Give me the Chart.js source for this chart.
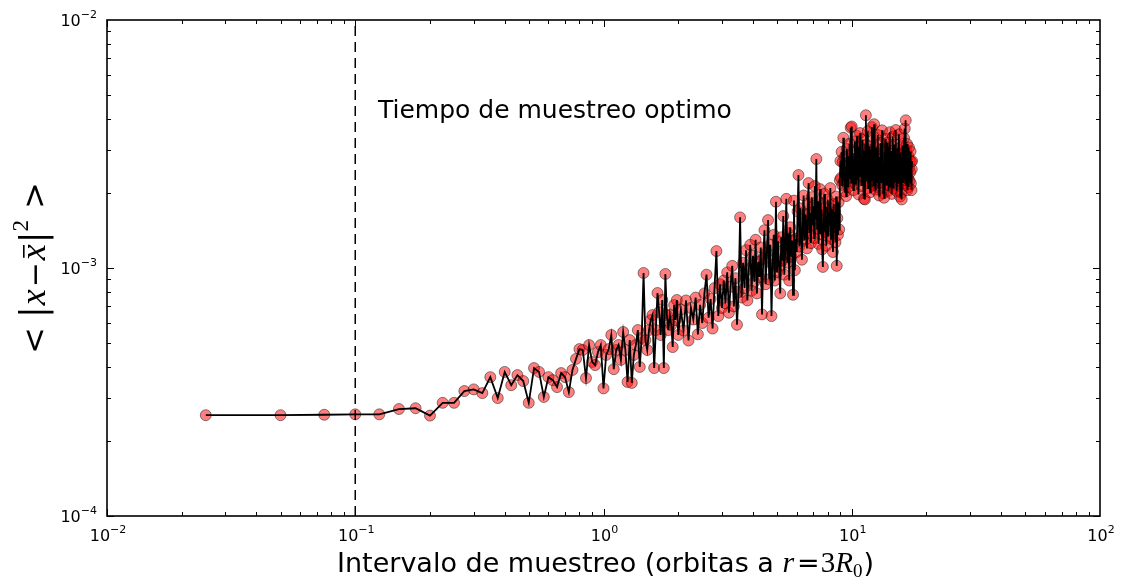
<!DOCTYPE html>
<html><head><meta charset="utf-8">
<script src="https://cdn.jsdelivr.net/npm/chart.js@4.4.1/dist/chart.umd.min.js"></script>
<style>html,body{margin:0;padding:0;background:#fff}canvas{display:block}</style>
</head><body>
<canvas id="chart" width="1121" height="583"></canvas>
<script>
// ---- tick labels / decades ----
const xDecades = [0.01, 0.1, 1, 10, 100];
const xTickExponents = ['-2', '-1', '0', '1', '2'];
const yDecades = [1e-4, 1e-3, 1e-2];
const yTickExponents = ['-4', '-3', '-2'];
const optimalInterval = 0.1;
const annotationText = 'Tiempo de muestreo optimo';
const annotationAt = [0.1235, 4.03e-3];

// ---- sampling intervals (orbits) and mean square deviation ----
const intervalsA = [0.025,0.05,0.075,0.1,0.125,0.15,0.175,0.2,0.225,0.25,
0.275,0.3,0.325,0.35,0.375,0.4,0.425,0.45,0.475,0.5,
0.525,0.55,0.575,0.6,0.625,0.65,0.675,0.7,0.725,0.75,
0.775,0.8,0.825,0.85,0.875,0.9,0.925,0.95,0.975,1.0,
1.025,1.05,1.075,1.1,1.125,1.15,1.175,1.2,1.225,1.25,
1.275,1.3,1.325,1.35,1.375,1.4,1.425,1.45,1.475,1.5,
1.525,1.55,1.575,1.6,1.625,1.65,1.675,1.7,1.725,1.75,
1.775,1.8,1.825,1.85,1.875,1.9,1.925,1.95,1.975,2.0];
const msdA = [2.55e-4,2.55e-4,2.56e-4,2.57e-4,2.57e-4,2.70e-4,2.72e-4,2.54e-4,2.86e-4,2.86e-4,
3.19e-4,3.24e-4,3.13e-4,3.63e-4,2.99e-4,3.81e-4,3.37e-4,3.70e-4,3.50e-4,2.86e-4,
3.95e-4,3.81e-4,3.02e-4,3.63e-4,3.53e-4,3.31e-4,3.77e-4,3.63e-4,3.16e-4,3.88e-4,
4.30e-4,4.71e-4,4.67e-4,3.60e-4,4.89e-4,4.18e-4,4.06e-4,4.58e-4,4.89e-4,3.27e-4,
4.46e-4,4.71e-4,5.37e-4,3.91e-4,4.67e-4,4.89e-4,4.26e-4,5.52e-4,4.67e-4,3.47e-4,
5.12e-4,3.44e-4,4.46e-4,4.89e-4,5.62e-4,3.99e-4,5.22e-4,9.55e-4,5.12e-4,4.67e-4,
5.62e-4,6.17e-4,6.46e-4,3.95e-4,5.62e-4,7.93e-4,6.64e-4,5.37e-4,7.43e-4,3.95e-4,
9.46e-4,6.46e-4,5.62e-4,6.46e-4,5.89e-4,4.80e-4,7.09e-4,6.17e-4,7.43e-4,5.37e-4];

const intervalsB = [2.05,2.1,2.15,2.2,2.25,2.3,2.35,2.4,2.45,2.5,
2.55,2.6,2.65,2.7,2.75,2.8,2.85,2.9,2.95,3.0,
3.05,3.1,3.15,3.2,3.25,3.3,3.35,3.4,3.45,3.5,
3.55,3.6,3.65,3.7,3.75,3.8,3.85,3.9,3.95,4.0,
4.05,4.1,4.15,4.2,4.25,4.3,4.35,4.4,4.45,4.5,
4.55,4.6,4.65,4.7,4.75,4.8,4.85,4.9,4.95,5.0,
5.05,5.1,5.15,5.2,5.25,5.3,5.35,5.4,5.45,5.5,
5.55,5.6,5.65,5.7,5.75,5.8,5.85,5.9,5.95,6.0,
6.05,6.1,6.15,6.2,6.25,6.3,6.35,6.4,6.45,6.5,
6.55,6.6,6.65,6.7,6.75,6.8,6.85,6.9,6.95,7.0,
7.05,7.1,7.15,7.2,7.25,7.3,7.35,7.4,7.45,7.5,
7.55,7.6,7.65,7.7,7.75,7.8,7.85,7.9,7.95,8.0,
8.05,8.1,8.15,8.2,8.25,8.3,8.35,8.4,8.45,8.5,
8.55,8.6,8.65,8.7,8.75,8.8,8.85,8.9,8.95,9.0];
const msdB = [6.8e-4,5.6e-4,7.4e-4,5.1e-4,6.9e-4,6.2e-4,7.6e-4,5.4e-4,7.1e-4,6.0e-4,
7.9e-4,9.4e-4,6.3e-4,7.5e-4,5.7e-4,8.3e-4,11.7e-4,6.4e-4,8.6e-4,6.9e-4,
8.9e-4,7.2e-4,9.6e-4,6.6e-4,8.4e-4,10.2e-4,7.0e-4,9.1e-4,5.9e-4,8.0e-4,
16.0e-4,7.6e-4,10.5e-4,8.3e-4,11.8e-4,7.4e-4,9.9e-4,12.4e-4,8.1e-4,11.2e-4,
8.8e-4,13.0e-4,7.9e-4,10.6e-4,9.2e-4,12.1e-4,6.5e-4,10.9e-4,14.2e-4,8.6e-4,
11.5e-4,15.6e-4,9.0e-4,12.4e-4,6.4e-4,10.3e-4,13.6e-4,8.9e-4,18.5e-4,9.6e-4,
12.8e-4,10.1e-4,7.9e-4,13.3e-4,10.7e-4,16.2e-4,9.4e-4,12.0e-4,19.0e-4,10.5e-4,
13.8e-4,8.9e-4,14.6e-4,11.1e-4,12.9e-4,7.8e-4,18.7e-4,9.8e-4,13.1e-4,11.6e-4,
16.9e-4,23.7e-4,12.2e-4,17.4e-4,13.5e-4,10.8e-4,15.8e-4,19.6e-4,12.9e-4,16.4e-4,
14.1e-4,12.0e-4,18.2e-4,22.0e-4,13.8e-4,16.7e-4,12.6e-4,19.3e-4,14.9e-4,17.8e-4,
13.2e-4,21.4e-4,15.7e-4,27.5e-4,14.4e-4,18.6e-4,12.5e-4,16.9e-4,20.8e-4,13.7e-4,
17.2e-4,11.9e-4,10.1e-4,15.5e-4,19.9e-4,14.0e-4,17.6e-4,12.3e-4,16.1e-4,18.9e-4,
13.4e-4,16.6e-4,14.8e-4,21.0e-4,13.1e-4,17.3e-4,15.2e-4,11.6e-4,18.1e-4,14.6e-4,
16.8e-4,12.7e-4,19.4e-4,10.2e-4,15.9e-4,13.6e-4,18.4e-4,14.3e-4,22.6e-4,27.0e-4];

const intervalsC = [9.05,9.1,9.15,9.2,9.25,9.3,9.35,9.4,9.45,9.5,
9.55,9.6,9.65,9.7,9.75,9.8,9.85,9.9,9.95,10.0,
10.05,10.1,10.15,10.2,10.25,10.3,10.35,10.4,10.45,10.5,
10.55,10.6,10.65,10.7,10.75,10.8,10.85,10.9,10.95,11.0,
11.05,11.1,11.15,11.2,11.25,11.3,11.35,11.4,11.45,11.5,
11.55,11.6,11.65,11.7,11.75,11.8,11.85,11.9,11.95,12.0,
12.05,12.1,12.15,12.2,12.25,12.3,12.35,12.4,12.45,12.5,
12.55,12.6,12.65,12.7,12.75,12.8,12.85,12.9,12.95,13.0,
13.05,13.1,13.15,13.2,13.25,13.3,13.35,13.4,13.45,13.5,
13.55,13.6,13.65,13.7,13.75,13.8,13.85,13.9,13.95,14.0,
14.05,14.1,14.15,14.2,14.25,14.3,14.35,14.4,14.45,14.5,
14.55,14.6,14.65,14.7,14.75,14.8,14.85,14.9,14.95,15.0,
15.05,15.1,15.15,15.2,15.25,15.3,15.35,15.4,15.45,15.5,
15.55,15.6,15.65,15.7,15.75,15.8,15.85,15.9,15.95,16.0,
16.05,16.1,16.15,16.2,16.25,16.3,16.35,16.4,16.45,16.5,
16.55,16.6,16.65,16.7,16.75,16.8,16.85,16.9,16.95,17.0,
17.05,17.1,17.15,17.2,17.25,17.3,17.35,17.4,17.45,17.5];
const msdC = [23.1e-4,29.4e-4,21.6e-4,26.8e-4,33.5e-4,22.4e-4,27.9e-4,20.3e-4,25.6e-4,19.5e-4,
30.2e-4,24.1e-4,28.3e-4,21.2e-4,26.0e-4,31.7e-4,23.0e-4,36.8e-4,22.1e-4,37.2e-4,
24.5e-4,29.0e-4,20.6e-4,27.4e-4,23.6e-4,32.4e-4,21.9e-4,28.6e-4,25.2e-4,34.1e-4,
22.7e-4,27.0e-4,19.8e-4,30.9e-4,24.0e-4,35.0e-4,23.3e-4,28.1e-4,21.4e-4,26.5e-4,
33.0e-4,24.8e-4,29.7e-4,19.0e-4,27.2e-4,18.9e-4,31.3e-4,41.3e-4,22.5e-4,28.8e-4,
25.1e-4,35.6e-4,21.0e-4,27.7e-4,23.9e-4,31.0e-4,20.2e-4,26.3e-4,29.9e-4,22.8e-4,
37.0e-4,24.3e-4,28.4e-4,21.5e-4,33.7e-4,38.0e-4,23.4e-4,27.6e-4,20.7e-4,30.5e-4,
25.4e-4,22.0e-4,29.1e-4,24.6e-4,34.4e-4,21.1e-4,26.9e-4,19.6e-4,28.0e-4,23.8e-4,
31.9e-4,25.7e-4,22.2e-4,30.0e-4,35.9e-4,24.2e-4,27.8e-4,20.0e-4,26.1e-4,19.2e-4,
29.3e-4,23.2e-4,33.2e-4,25.0e-4,21.7e-4,28.5e-4,24.4e-4,32.0e-4,22.6e-4,27.3e-4,
20.5e-4,25.9e-4,30.7e-4,23.5e-4,35.3e-4,21.3e-4,26.6e-4,24.9e-4,29.6e-4,19.9e-4,
27.1e-4,22.9e-4,33.9e-4,25.3e-4,20.9e-4,28.2e-4,24.7e-4,31.4e-4,22.3e-4,26.4e-4,
36.0e-4,23.7e-4,27.5e-4,20.4e-4,25.8e-4,30.3e-4,21.8e-4,28.7e-4,24.0e-4,34.6e-4,
22.4e-4,26.7e-4,19.4e-4,29.2e-4,23.1e-4,27.9e-4,20.1e-4,18.9e-4,25.5e-4,31.2e-4,
23.6e-4,28.9e-4,22.0e-4,26.2e-4,33.4e-4,24.1e-4,36.5e-4,22.7e-4,27.4e-4,39.4e-4,
21.6e-4,29.8e-4,24.5e-4,31.6e-4,20.6e-4,26.0e-4,23.0e-4,28.3e-4,21.2e-4,30.6e-4,
25.2e-4,22.5e-4,27.1e-4,24.3e-4,29.5e-4,21.9e-4,26.8e-4,20.6e-4,25.0e-4,27.0e-4];

// ---- build point table ----
const intervals = intervalsA.concat(intervalsB, intervalsC);
const msd = msdA.concat(msdB, msdC);
const points = intervals.map((x, i) => ({x: x, y: msd[i]}));

// ---- helpers ----
function drawParts(ctx, parts, x0, baseline, align) {
  let total = 0;
  for (const p of parts) { ctx.font = p.font; p.w = ctx.measureText(p.text).width; total += p.w + (p.gap || 0); }
  let x = align === 'center' ? x0 - total / 2 : (align === 'right' ? x0 - total : x0);
  ctx.textAlign = 'left'; ctx.textBaseline = 'alphabetic';
  for (const p of parts) {
    ctx.font = p.font;
    ctx.fillText(p.text, x, baseline + (p.dy || 0));
    if (p.bar) ctx.fillRect(x + p.w * 0.15, baseline - p.bar, p.w * 0.8, 1.6);
    x += p.w + (p.gap || 0);
  }
}
function powerLabel(exp) {
  return [
    {text: '10', font: '16px "DejaVu Sans"'},
    {text: exp.replace('-', '\u2212'), font: '11px "DejaVu Sans"', dy: -8}
  ];
}

const decorPlugin = {
  id: 'decor',
  afterDatasetsDraw(chart) {
    const {ctx, chartArea: a, scales: {x, y}} = chart;
    ctx.save();
    ctx.strokeStyle = '#000';
    ctx.fillStyle = '#000';
    ctx.lineWidth = 1;
    const seg = (x1, y1, x2, y2) => { ctx.beginPath(); ctx.moveTo(x1, y1); ctx.lineTo(x2, y2); ctx.stroke(); };
    // inward ticks on all four sides
    for (let e = -2; e <= 1; e++) {
      for (let m = 1; m <= 9; m++) {
        const v = m * Math.pow(10, e);
        const len = m === 1 ? 7 : 4;
        const px = Math.round(x.getPixelForValue(v)) + 0.5;
        seg(px, a.bottom, px, a.bottom - len);
        seg(px, a.top, px, a.top + len);
      }
    }
    for (let e = -4; e <= -3; e++) {
      for (let m = 1; m <= 9; m++) {
        const v = m * Math.pow(10, e);
        const len = m === 1 ? 7 : 4;
        const py = Math.round(y.getPixelForValue(v)) + 0.5;
        seg(a.left, py, a.left + len, py);
        seg(a.right, py, a.right - len, py);
      }
    }
    ctx.lineWidth = 1.6;
    ctx.strokeRect(a.left, a.top, a.right - a.left, a.bottom - a.top);

    // tick labels
    xDecades.forEach((v, i) => drawParts(ctx, powerLabel(xTickExponents[i]), x.getPixelForValue(v) + 1, a.bottom + 25, 'center'));
    yDecades.forEach((v, i) => drawParts(ctx, powerLabel(yTickExponents[i]), a.left - 10, y.getPixelForValue(v) + 6, 'right'));

    // annotation
    ctx.font = '25px "DejaVu Sans"';
    ctx.textAlign = 'left'; ctx.textBaseline = 'alphabetic';
    ctx.fillText(annotationText, x.getPixelForValue(annotationAt[0]), y.getPixelForValue(annotationAt[1]));

    // x axis title
    drawParts(ctx, [
      {text: 'Intervalo de muestreo (orbitas a ', font: '27px "DejaVu Sans"'},
      {text: 'r', font: 'italic 30px "Liberation Serif"', gap: 3},
      {text: '=', font: '27px "DejaVu Sans"', gap: 1},
      {text: '3', font: '29px "Liberation Serif"'},
      {text: 'R', font: 'italic 29px "Liberation Serif"'},
      {text: '0', font: '19px "Liberation Serif"', dy: 5, gap: 1},
      {text: ')', font: '27px "DejaVu Sans"'}
    ], (a.left + a.right) / 2 + 2, 572, 'center');

    // y axis title (rotated)
    ctx.translate(45, 268);
    ctx.rotate(-Math.PI / 2);
    drawParts(ctx, [
      {text: '<', font: '32px "DejaVu Sans"', gap: 9},
      {text: '|', font: '35px "DejaVu Sans"', gap: 1},
      {text: 'x', font: 'italic 36px "Liberation Serif"', gap: 2},
      {text: '\u2212', font: '30px "DejaVu Sans"', gap: 2},
      {text: 'x', font: 'italic 36px "Liberation Serif"', bar: 22, gap: 1},
      {text: '|', font: '35px "DejaVu Sans"'},
      {text: '2', font: '23px "Liberation Serif"', dy: -17, gap: 11},
      {text: '>', font: '32px "DejaVu Sans"'}
    ], 0, 0, 'center');
    ctx.restore();
  }
};

new Chart(document.getElementById('chart'), {
  type: 'scatter',
  data: {
    datasets: [
      {
        label: 'optimo',
        data: [{x: optimalInterval, y: yDecades[0]}, {x: optimalInterval, y: yDecades[yDecades.length - 1]}],
        showLine: true, borderColor: '#000', borderWidth: 1.5, borderDash: [10, 6],
        pointRadius: 0, order: -1
      },
      {
        label: 'linea',
        data: points, showLine: true, borderColor: '#000', borderWidth: 1.8,
        pointRadius: 0, tension: 0, order: 0
      },
      {
        label: 'puntos',
        data: points, showLine: false,
        backgroundColor: 'rgba(255,0,0,0.5)', borderColor: 'rgba(0,0,0,0.45)', borderWidth: 1,
        pointRadius: 5.5, order: 1
      }
    ]
  },
  options: {
    responsive: false,
    animation: false,
    devicePixelRatio: 1,
    layout: {padding: {top: 20, right: 21, left: 0, bottom: 0}},
    plugins: {legend: {display: false}, tooltip: {enabled: false}},
    scales: {
      x: {
        type: 'logarithmic', position: 'bottom', min: xDecades[0], max: xDecades[xDecades.length - 1],
        grid: {display: false, drawTicks: false}, border: {display: false},
        afterBuildTicks: s => { s.ticks = xDecades.map(v => ({value: v})); },
        afterFit: s => { s.height = 67; },
        ticks: {display: false}
      },
      y: {
        type: 'logarithmic', position: 'left', min: yDecades[0], max: yDecades[yDecades.length - 1],
        grid: {display: false, drawTicks: false}, border: {display: false},
        afterBuildTicks: s => { s.ticks = yDecades.map(v => ({value: v})); },
        afterFit: s => { s.width = 107; },
        ticks: {display: false}
      }
    }
  },
  plugins: [decorPlugin]
});
</script>
</body></html>
